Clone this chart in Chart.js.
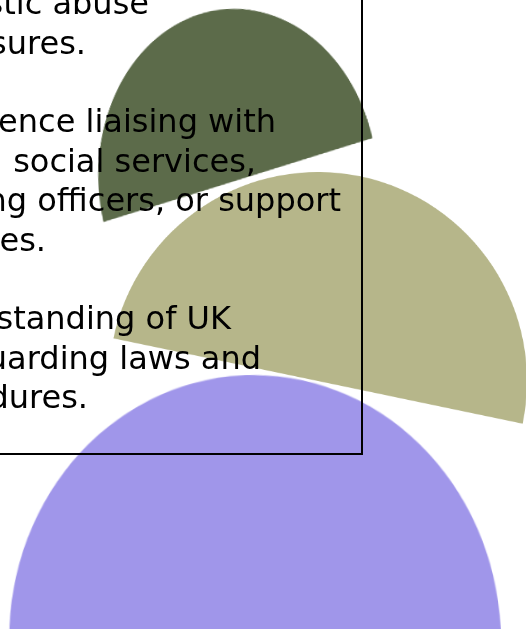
<!DOCTYPE html>
<html>
<head>
<meta charset="utf-8">
<script src="https://cdn.jsdelivr.net/npm/chart.js@4.4.0/dist/chart.umd.min.js"></script>
<style>
  html, body { margin: 0; padding: 0; background: #fff; }
  #stage { position: relative; width: 526px; height: 629px; overflow: hidden; background: #fff; }
  .shape { position: absolute; width: 200px; height: 200px; transform-origin: 50% 50%; }
  #greenWrap { left: 137.5px; top: 80px; transform: rotate(-3.8deg) scale(1.396, 1.713); }
  #oliveWrap { left: 217.5px; top: 281px; transform: scale(2.09); }
  #lavenderWrap { left: 155px; top: 540px; transform: rotate(-2deg) scale(2.458, 2.65); }
  #frame { position: absolute; left: -10px; top: -10px; width: 373px; height: 465px;
           border: 2px solid #000; box-sizing: border-box; z-index: 5; }
  .line { position: absolute; white-space: nowrap; font-family: "DejaVu Sans", Verdana, sans-serif;
          font-size: 32px; line-height: 39.4px; color: #000; z-index: 6; }
</style>
</head>
<body>
<div id="stage">
  <div class="shape" id="greenWrap"><canvas id="greenChart"></canvas></div>
  <div class="shape" id="oliveWrap"><canvas id="oliveChart"></canvas></div>
  <div class="shape" id="lavenderWrap"><canvas id="lavenderChart"></canvas></div>
  <div id="frame"></div>

  <div class="line" style="top:-15.8px; right:377px;">Understanding of domestic abuse</div>
  <div class="line" style="top:23.6px; right:440px;">and protective measures.</div>
  <div class="line" style="top:102.4px; right:250px;">Experience liaising with</div>
  <div class="line" style="top:141.8px; right:270px;">police, social services,</div>
  <div class="line" style="top:181.2px; right:185px;">housing officers, or support</div>
  <div class="line" style="top:220.6px; right:480px;">agencies.</div>
  <div class="line" style="top:299.4px; right:295px;">Understanding of UK</div>
  <div class="line" style="top:338.8px; right:265px;">safeguarding laws and</div>
  <div class="line" style="top:378.2px; right:438px;">procedures.</div>
</div>

<script>
// each shape is half of a pie: first slice coloured, second slice left empty
const sliceLabels = ["shape", "blank"];
const greenValues = [50, 50];
const oliveValues = [50, 50];
const lavenderValues = [50, 50];

const greenColor = "#5c6b4a";
const oliveColor = "#b6b68a";
const lavenderColor = "#a096ea";

// Draw one half-disc pie
function halfDisc(canvasId, values, color, rotation) {
  const ctx = document.getElementById(canvasId).getContext("2d");
  return new Chart(ctx, {
    type: "pie",
    data: {
      labels: sliceLabels,
      datasets: [{
        data: values,
        backgroundColor: [color, "rgba(0,0,0,0)"],
        borderWidth: 0,
        hoverOffset: 0,
        offset: 0,
      }],
    },
    options: {
      responsive: true,
      maintainAspectRatio: false,
      animation: false,
      devicePixelRatio: 3,
      rotation: rotation,
      events: [],
      layout: { padding: 0 },
      plugins: {
        legend: { display: false },
        tooltip: { enabled: false },
      },
    },
  });
}

halfDisc("greenChart", greenValues, greenColor, -101.1);
halfDisc("oliveChart", oliveValues, oliveColor, -78.2);
halfDisc("lavenderChart", lavenderValues, lavenderColor, -88);
</script>
</body>
</html>
